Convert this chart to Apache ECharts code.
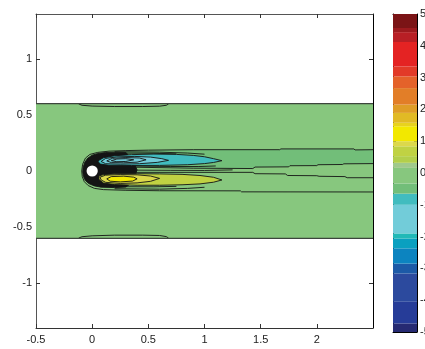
<!DOCTYPE html>
<html>
<head>
<meta charset="utf-8">
<script src="https://cdn.jsdelivr.net/npm/echarts@6/dist/echarts.min.js"></script>
<style>
  html, body { margin: 0; padding: 0; background: #fff; }
  #chart { width: 425px; height: 349px; }
</style>
</head>
<body>
<div id="chart"></div>
<script>
// ---- axis ticks ----
const xTicks = [-0.5, 0, 0.5, 1, 1.5, 2];
const yTicks = [-1, -0.5, 0, 0.5, 1];
const barTicks = [-5, -4, -3, -2, -1, 0, 1, 2, 3, 4, 5];

// ---- contour levels (band edges) and the colour of each band ----
const levelEdges = [-5, -4.73, -4.05, -3.16, -2.85, -2.37, -2.06, -1.9, -1.0, -0.65, -0.33,
                    0.16, 0.32, 0.53, 0.84, 1.0, 1.47, 1.58, 1.89, 2.15, 2.67, 3.04, 3.35,
                    4.12, 4.43, 4.56, 5];
const levelColors = ['#262A72', '#263C98', '#2C4A9E', '#1C5AA7', '#0C84C0', '#0AA0C0', '#21B9B7',
                     '#72CCD9', '#41BCBF', '#72BE79', '#87C77E', '#A0C98C', '#B3CF4B', '#C0D243',
                     '#DCD84B', '#F2E800', '#E8D21E', '#E1BA25', '#DF9D27', '#E27E28', '#E4622A',
                     '#E23A28', '#E42323', '#B81F25', '#9C1A1E', '#7B1416'];

// ---- channel and cylinder ----
const channel = [[-0.5, -0.6], [2.5, -0.6], [2.5, 0.6], [-0.5, 0.6]];
const topWall = [[-0.5, 0.6], [2.5, 0.6]];
const bottomWall = [[-0.5, -0.6], [2.5, -0.6]];
const cylinder = { x: 0, y: 0, r: 0.05 };

// ---- contour geometry (x, y in channel units) ----
const topSliver = [[-0.12, 0.598], [-0.09, 0.586], [0.0, 0.579], [0.2, 0.575], [0.45, 0.575],
                   [0.6, 0.578], [0.66, 0.586], [0.68, 0.598]];
const bottomSliver = [[-0.12, -0.598], [-0.09, -0.586], [0.0, -0.578], [0.2, -0.572], [0.45, -0.572],
                      [0.6, -0.575], [0.66, -0.585], [0.68, -0.598]];

const envelope = [[2.5, 0.19], [2.34, 0.188], [2.33, 0.197], [1.68, 0.197], [1.67, 0.19], [0.9, 0.19],
                  [0.5, 0.186], [0.3, 0.182], [0.15, 0.177], [0.05, 0.166], [-0.02, 0.148],
                  [-0.06, 0.115], [-0.085, 0.06], [-0.093, 0.0], [-0.088, -0.05], [-0.07, -0.095],
                  [-0.035, -0.13], [0.02, -0.155], [0.1, -0.166], [0.3, -0.172], [0.6, -0.176],
                  [1.32, -0.177], [1.33, -0.186], [2.5, -0.187]];

const negBand = [[0.3, 0.182], [0.5, 0.186], [0.9, 0.19], [1.67, 0.19], [1.68, 0.197], [2.33, 0.197],
                 [2.34, 0.188], [2.5, 0.19], [2.5, 0.066], [2.24, 0.064], [2.23, 0.058], [2.01, 0.056],
                 [2.0, 0.048], [1.76, 0.047], [1.75, 0.037], [1.45, 0.035], [1.43, 0.022],
                 [0.9, 0.025], [0.3, 0.035]];

const lineA = [[0.3, 0.035], [0.9, 0.025], [1.43, 0.022], [1.45, 0.035], [1.75, 0.037], [1.76, 0.047],
               [2.0, 0.048], [2.01, 0.056], [2.23, 0.058], [2.24, 0.064], [2.5, 0.066]];
const lineB = [[0.3, -0.012], [1.43, -0.012], [1.45, -0.024], [1.72, -0.026], [1.74, -0.04],
               [2.0, -0.042], [2.02, -0.047], [2.25, -0.05], [2.27, -0.06], [2.5, -0.06]];

const nearBlob = [[0.3, 0.166], [0.2, 0.168], [0.12, 0.165], [0.05, 0.156], [0.0, 0.141],
                  [-0.04, 0.114], [-0.067, 0.075], [-0.081, 0.03], [-0.084, -0.01], [-0.077, -0.05],
                  [-0.06, -0.085], [-0.03, -0.112], [0.02, -0.133], [0.08, -0.144], [0.2, -0.148],
                  [0.3, -0.143], [0.36, -0.1], [0.4, 0.01], [0.36, 0.1]];

const tealOuter = [[0.05, 0.09], [0.1, 0.118], [0.2, 0.136], [0.35, 0.146], [0.55, 0.151], [0.75, 0.148],
                   [0.9, 0.139], [1.0, 0.127], [1.08, 0.11], [1.155, 0.092], [1.08, 0.076],
                   [1.0, 0.066], [0.85, 0.056], [0.6, 0.05], [0.35, 0.049], [0.15, 0.051], [0.07, 0.062]];
const tealInner = [[0.08, 0.085], [0.12, 0.112], [0.22, 0.126], [0.38, 0.13], [0.52, 0.124],
                   [0.62, 0.11], [0.68, 0.095], [0.58, 0.077], [0.42, 0.065], [0.25, 0.061], [0.12, 0.065]];
const tealRing1 = [[0.13, 0.09], [0.18, 0.113], [0.3, 0.12], [0.42, 0.116], [0.48, 0.1], [0.4, 0.079],
                   [0.28, 0.073], [0.17, 0.075]];
const tealRing2 = [[0.17, 0.092], [0.22, 0.107], [0.3, 0.11], [0.37, 0.1], [0.3, 0.085], [0.22, 0.083]];

const yellowOuter = [[0.06, -0.045], [0.1, -0.032], [0.2, -0.025], [0.4, -0.024], [0.6, -0.026],
                     [0.8, -0.03], [0.96, -0.04], [1.08, -0.056], [1.155, -0.08], [1.08, -0.1],
                     [0.96, -0.115], [0.8, -0.123], [0.6, -0.127], [0.4, -0.127], [0.2, -0.121],
                     [0.1, -0.107], [0.06, -0.075]];
const yellowMid = [[0.07, -0.055], [0.12, -0.037], [0.25, -0.032], [0.4, -0.034], [0.52, -0.045],
                   [0.6, -0.066], [0.52, -0.092], [0.4, -0.106], [0.25, -0.111], [0.12, -0.101], [0.08, -0.08]];
const yellowCore = [[0.13, -0.07], [0.17, -0.05], [0.28, -0.046], [0.37, -0.055], [0.4, -0.07],
                    [0.36, -0.09], [0.25, -0.097], [0.16, -0.091]];

const fanUp1 = [[0.2, 0.172], [0.6, 0.168], [0.85, 0.16], [1.0, 0.15]];
const fanUp2 = [[0.2, 0.16], [0.55, 0.158], [0.75, 0.153]];
const fanMid1 = [[0.3, 0.045], [0.7, 0.04], [0.95, 0.04], [1.1, 0.045]];
const fanMid2 = [[0.3, 0.008], [0.7, 0.006], [1.0, 0.005], [1.25, 0.01]];
const fanLow1 = [[0.2, -0.158], [0.6, -0.162], [0.85, -0.155], [1.0, -0.145]];
const fanLow2 = [[0.2, -0.14], [0.55, -0.141], [0.75, -0.137]];

// field level represented by each filled region
const levelChannel = 0;
const levelNegBand = -0.5;
const levelTealOuter = -0.8;
const levelTealInner = -1.5;
const levelYellowOuter = 0.7;
const levelYellowMid = 0.9;
const levelYellowCore = 1.2;

// ---- drawing ----
function bandColor(v) {
  for (let i = 0; i < levelColors.length; i++) {
    if (v >= levelEdges[i] && v < levelEdges[i + 1]) return levelColors[i];
  }
  return levelColors[levelColors.length - 1];
}

const INK = '#141414';
const layers = [
  { pts: channel, fill: bandColor(levelChannel), stroke: null },
  { pts: negBand, fill: bandColor(levelNegBand), stroke: null },
  { pts: topSliver, line: true },
  { pts: bottomSliver, line: true },
  { pts: lineA, line: true },
  { pts: lineB, line: true },
  { pts: envelope, line: true },
  { pts: nearBlob, fill: INK, stroke: INK },
  { pts: fanUp1, line: true },
  { pts: fanUp2, line: true },
  { pts: fanMid1, line: true },
  { pts: fanMid2, line: true },
  { pts: fanLow1, line: true },
  { pts: fanLow2, line: true },
  { pts: tealOuter, fill: bandColor(levelTealOuter), stroke: INK },
  { pts: tealInner, fill: bandColor(levelTealInner), stroke: INK },
  { pts: tealRing1, fill: null, stroke: INK },
  { pts: tealRing2, fill: null, stroke: INK },
  { pts: yellowOuter, fill: bandColor(levelYellowOuter), stroke: INK },
  { pts: yellowMid, fill: bandColor(levelYellowMid), stroke: INK },
  { pts: yellowCore, fill: bandColor(levelYellowCore), stroke: INK },
  { pts: topWall, line: true, wall: true },
  { pts: bottomWall, line: true, wall: true },
  { circle: cylinder }
];

function renderContour(params, api) {
  const L = layers[params.dataIndex];
  if (L.circle) {
    const c = api.coord([L.circle.x, L.circle.y]);
    const e = api.coord([L.circle.x + L.circle.r, L.circle.y]);
    return { type: 'circle', shape: { cx: c[0], cy: c[1], r: e[0] - c[0] },
             style: { fill: '#ffffff', stroke: null }, silent: true };
  }
  const points = L.pts.map(p => api.coord(p));
  if (L.line) {
    return { type: 'polyline', shape: { points },
             style: { fill: null, stroke: L.wall ? '#3d463d' : INK, lineWidth: L.wall ? 1.3 : 0.9 },
             silent: true };
  }
  return { type: 'polygon', shape: { points },
           style: { fill: L.fill || 'none', stroke: L.stroke, lineWidth: 0.9 }, silent: true };
}

function renderBand(params, api) {
  const i = params.dataIndex;
  const lo = api.coord([0, levelEdges[i]]);
  const hi = api.coord([1, levelEdges[i + 1]]);
  return { type: 'rect', shape: { x: lo[0], y: hi[1], width: hi[0] - lo[0], height: lo[1] - hi[1] },
           style: { fill: levelColors[i], stroke: null }, silent: true };
}

const font = { fontFamily: 'Liberation Sans, Arial, sans-serif', fontSize: 11, color: '#222' };
const frame = (color) => ({ show: true, onZero: false, lineStyle: { color, width: 1 } });
const noSplit = { show: false };

const chart = echarts.init(document.getElementById('chart'), null, { renderer: 'canvas' });
chart.setOption({
  animation: false,
  backgroundColor: '#ffffff',
  grid: [
    { left: 36, top: 14, width: 337, height: 314, containLabel: false, outerBoundsMode: 'none' },
    { left: 393, top: 14, width: 24, height: 318, containLabel: false, outerBoundsMode: 'none' }
  ],
  xAxis: [
    { gridIndex: 0, type: 'value', min: -0.5, max: 2.5, position: 'bottom', axisLine: frame('#333'),
      axisTick: { inside: true, length: 4, customValues: xTicks, lineStyle: { color: '#333' } },
      axisLabel: Object.assign({ customValues: xTicks, margin: 6 }, font), splitLine: noSplit },
    { gridIndex: 0, type: 'value', min: -0.5, max: 2.5, position: 'top', axisLine: frame('#555'),
      axisTick: { inside: true, length: 4, customValues: xTicks, lineStyle: { color: '#333' } },
      axisLabel: { show: false }, splitLine: noSplit },
    { gridIndex: 1, type: 'value', min: 0, max: 1, position: 'bottom', axisLine: frame('#000'),
      axisTick: { show: false }, axisLabel: { show: false }, splitLine: noSplit },
    { gridIndex: 1, type: 'value', min: 0, max: 1, position: 'top', axisLine: frame('#000'),
      axisTick: { show: false }, axisLabel: { show: false }, splitLine: noSplit }
  ],
  yAxis: [
    { gridIndex: 0, type: 'value', min: -1.4, max: 1.4, position: 'left', axisLine: frame('#555'),
      axisTick: { inside: true, length: 4, customValues: yTicks, lineStyle: { color: '#333' } },
      axisLabel: Object.assign({ customValues: yTicks, margin: 4 }, font), splitLine: noSplit },
    { gridIndex: 0, type: 'value', min: -1.4, max: 1.4, position: 'right', axisLine: frame('#000'),
      axisTick: { inside: true, length: 4, customValues: yTicks, lineStyle: { color: '#333' } },
      axisLabel: { show: false }, splitLine: noSplit },
    { gridIndex: 1, type: 'value', min: -5, max: 5, position: 'left', axisLine: frame('#000'),
      axisTick: { inside: true, length: 3, customValues: barTicks, lineStyle: { color: '#000' } },
      axisLabel: { show: false }, splitLine: noSplit },
    { gridIndex: 1, type: 'value', min: -5, max: 5, position: 'right', axisLine: frame('#000'),
      axisTick: { inside: true, length: 3, customValues: barTicks, lineStyle: { color: '#000' } },
      axisLabel: Object.assign({ customValues: barTicks, margin: 3 }, font), splitLine: noSplit }
  ],
  series: [
    { type: 'custom', xAxisIndex: 0, yAxisIndex: 0, clip: true, renderItem: renderContour,
      data: layers.map(() => [0, 0]), z: 1 },
    { type: 'custom', xAxisIndex: 2, yAxisIndex: 2, renderItem: renderBand,
      data: levelColors.map((c, i) => [0, levelEdges[i]]), z: 1 }
  ]
});
</script>
</body>
</html>
